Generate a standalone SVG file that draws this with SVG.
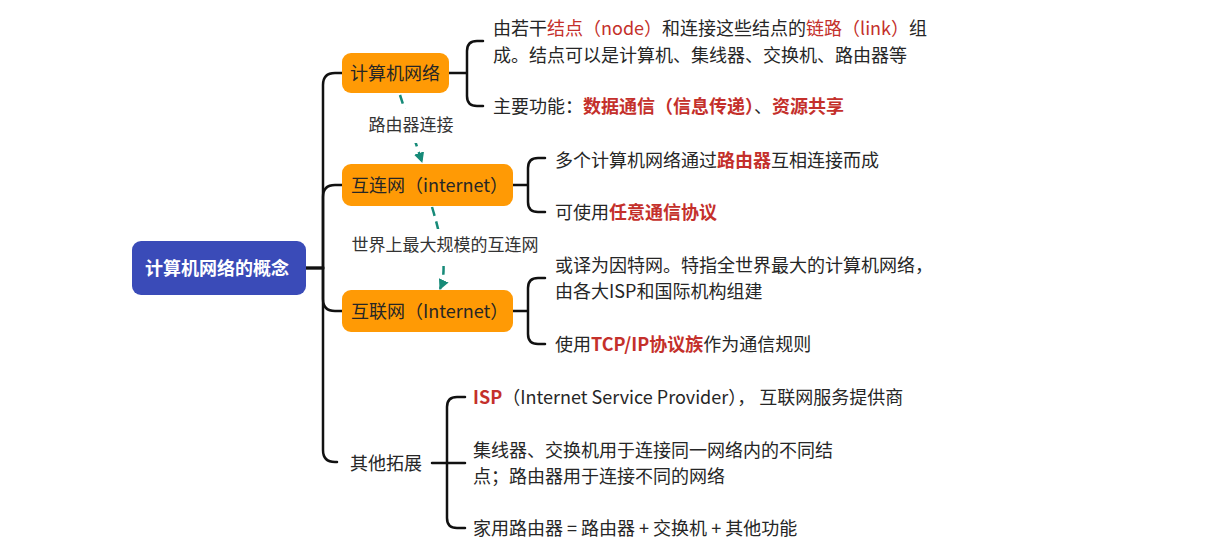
<svg xmlns="http://www.w3.org/2000/svg" width="1212" height="560" viewBox="0 0 1212 560">
<style>
text{font-family:"Noto Sans CJK SC","Noto Sans",sans-serif;font-size:18px;fill:#262626}
.lbl{font-size:17px;fill:#333;text-anchor:middle}
.red{fill:#c4302b}
.b{font-weight:bold}
.root{fill:#fff;font-weight:bold}
.line{fill:none;stroke:#111;stroke-width:2.5;stroke-linecap:round}
.dash{fill:none;stroke:#168a78;stroke-width:2.5;stroke-dasharray:9 6}
.orange{fill:#ff9a05}
</style>
<defs>
<marker id="ah" viewBox="0 0 10 10" refX="9" refY="5" markerWidth="4.2" markerHeight="4.2" orient="auto" markerUnits="strokeWidth">
<path d="M0,0 L10,5 L0,10 z" fill="#168a78"/>
</marker>
<mask id="lblmask" maskUnits="userSpaceOnUse" x="0" y="0" width="1212" height="560">
<rect x="0" y="0" width="1212" height="560" fill="#fff"/>
<rect x="360" y="109" width="104" height="34" fill="#000"/>
<rect x="345" y="229" width="200" height="37" fill="#000"/>
</mask>
</defs>
<rect width="1212" height="560" fill="#fff"/>
<g id="connectors">
<path class="line" d="M306,268 H323 V85 Q323,73 335,73 H342"/>
<path class="line" d="M306,268 H323 V197 Q323,185 335,185 H342"/>
<path class="line" d="M306,268 H323 V299 Q323,311 335,311 H342"/>
<path class="line" d="M306,268 H323 V450 Q323,462 335,462 H337"/>
<path class="line" d="M449,73 H467 M483,41 H477 Q467,41 467,51 V96 Q467,106 477,106 H483"/>
<path class="line" d="M513,185 H528 M545,158 H538 Q528,158 528,168 V202 Q528,212 538,212 H545"/>
<path class="line" d="M513,311 H528 M545,278 H538 Q528,278 528,288 V334 Q528,344 538,344 H545"/>
<path class="line" d="M432,463 H465 M465,397 H457 Q447,397 447,407 V518 Q447,528 457,528 H465"/>
<g mask="url(#lblmask)">
<path class="dash" d="M400,95 L422,162" marker-end="url(#ah)"/>
<path class="dash" d="M432,207 Q450,266 440,289" marker-end="url(#ah)"/>
</g>
<text class="lbl" x="411" y="131">路由器连接</text>
<text class="lbl" x="445" y="251">世界上最大规模的互连网</text>
</g>
<g id="root">
<rect x="132" y="241" width="174" height="54" rx="9" fill="#3a4bb8"/>
<text class="root" x="145" y="274.5">计算机网络的概念</text>
</g>
<g id="n-jisuanji">
<rect class="orange" x="342" y="53" width="107" height="40" rx="9"/>
<text x="350" y="79.5">计算机网络</text>
</g>
<g id="n-hulianwang-internet">
<rect class="orange" x="342" y="164" width="171" height="42" rx="9"/>
<text x="351" y="191.5">互连网（internet）</text>
</g>
<g id="n-hulianwang-Internet">
<rect class="orange" x="342" y="290" width="171" height="42" rx="9"/>
<text x="351" y="317.5">互联网（Internet）</text>
</g>
<g id="n-qita">
<text x="350" y="469.5">其他拓展</text>
</g>
<g id="t-jisuanji">
<text x="493" y="34.5">由若干<tspan class="red">结点（node）</tspan>和连接这些结点的<tspan class="red">链路（link）</tspan>组</text>
<text x="493" y="61.5">成。结点可以是计算机、集线器、交换机、路由器等</text>
<text x="493" y="112.5">主要功能：<tspan class="red b">数据通信（信息传递）</tspan>、<tspan class="red b">资源共享</tspan></text>
</g>
<g id="t-internet">
<text x="555" y="166.5">多个计算机网络通过<tspan class="red b">路由器</tspan>互相连接而成</text>
<text x="555" y="218.5">可使用<tspan class="red b">任意通信协议</tspan></text>
</g>
<g id="t-Internet">
<text x="555" y="271.5">或译为因特网。特指全世界最大的计算机网络，</text>
<text x="555" y="297.5">由各大ISP和国际机构组建</text>
<text x="555" y="350.5">使用<tspan class="red b">TCP/IP协议族</tspan>作为通信规则</text>
</g>
<g id="t-qita">
<text x="473" y="403.5" xml:space="preserve"><tspan class="red b">ISP</tspan>（Internet Service Provider）， 互联网服务提供商</text>
<text x="473" y="456.5">集线器、交换机用于连接同一网络内的不同结</text>
<text x="473" y="482.5">点；路由器用于连接不同的网络</text>
<text x="473" y="534.5">家用路由器 = 路由器 + 交换机 + 其他功能</text>
</g>
</svg>
